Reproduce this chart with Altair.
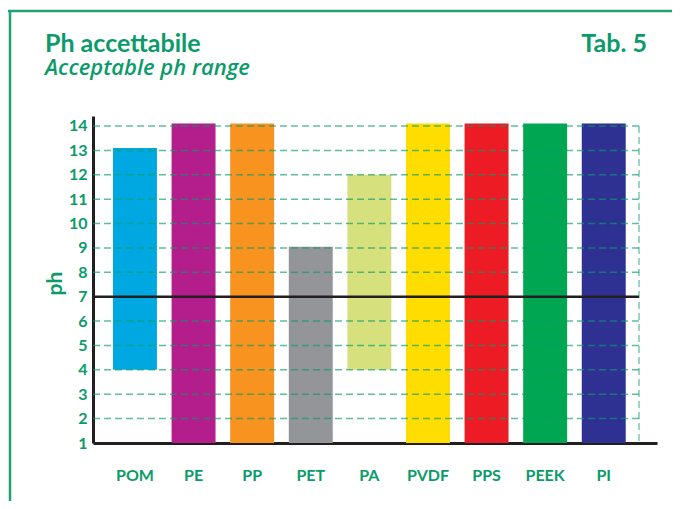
import altair as alt
import pandas as pd

# ---- data ----
materials = ["POM", "PE", "PP", "PET", "PA", "PVDF", "PPS", "PEEK", "PI"]
ph_low = [4, 1, 1, 1, 4, 1, 1, 1, 1]
ph_high = [13.1, 14.1, 14.1, 9.05, 12, 14.1, 14.1, 14.1, 14.1]
bar_colors = ["#00a8e1", "#b31e8c", "#f7931e", "#939598", "#d6e17e",
              "#ffdd00", "#ed1c24", "#00a651", "#2e3192"]
y_ticks = list(range(1, 15))
grid_values = [2, 3, 4, 5, 6, 8, 9, 10, 11, 12, 13, 14]
neutral_ph = 7
title_it = "Ph accettabile"
title_en = "Acceptable ph range"
tab_label = "Tab. 5"

GREEN = "#0b9b6a"
FRAME = "#23a070"
BLACK = "#231f20"
FONT = "Lato"

W, H = 564, 327
GRID_END = 546

df = pd.DataFrame({"material": materials, "low": ph_low, "high": ph_high})
grid_df = pd.DataFrame({"v": grid_values})
one = pd.DataFrame({"k": [0]})

y_scale = alt.Scale(domain=[1, 14.41], nice=False, zero=False)
x_scale = alt.Scale(paddingInner=0.25, paddingOuter=0.4375, align=0.39)

y_axis = alt.Axis(values=y_ticks, title="ph", grid=False, ticks=False,
                  labelOverlap=False,
                  domainColor=BLACK, domainWidth=3,
                  labelColor=GREEN, labelFont=FONT, labelFontSize=16,
                  labelFontWeight="bold", labelPadding=6,
                  titleColor=GREEN, titleFont=FONT, titleFontSize=21,
                  titleFontWeight="bold", titleAngle=270,
                  titleX=-38, titleY=167, titleAlign="center",
                  titleBaseline="middle")

bars = alt.Chart(df).mark_bar().encode(
    x=alt.X("material:N", sort=materials, scale=x_scale,
            axis=alt.Axis(title=None, labelAngle=0, ticks=False,
                          domainColor=BLACK, domainWidth=3,
                          labelColor=GREEN, labelFont=FONT, labelFontSize=16,
                          labelFontWeight="bold",
                          labelBaseline="alphabetic", labelPadding=37)),
    y=alt.Y("low:Q", scale=y_scale, axis=y_axis),
    y2="high:Q",
    color=alt.Color("material:N", scale=alt.Scale(domain=materials, range=bar_colors),
                    legend=None),
)

grid = alt.Chart(grid_df).mark_rule(
    color=GREEN, strokeDash=[7, 4], strokeWidth=1.5, opacity=0.65
).encode(
    y=alt.Y("v:Q", scale=y_scale, axis=y_axis),
    x=alt.value(0), x2=alt.value(GRID_END),
)

right_line = alt.Chart(one).mark_rule(
    color=GREEN, strokeDash=[7, 4], strokeWidth=1.5, opacity=0.55
).encode(
    x=alt.value(GRID_END),
    y=alt.datum(14, scale=y_scale, axis=y_axis), y2=alt.datum(1),
)

neutral = alt.Chart(one).mark_rule(color=BLACK, strokeWidth=2.5).encode(
    y=alt.datum(neutral_ph, axis=y_axis),
    x=alt.value(0), x2=alt.value(GRID_END),
)

t1 = alt.Chart(one).mark_text(
    text=title_it, font=FONT, fontSize=25, fontWeight="bold", color=GREEN,
    align="left", baseline="alphabetic"
).encode(x=alt.value(-48), y=alt.value(-64))

t2 = alt.Chart(one).mark_text(
    text=title_en, font="Open Sans", fontSize=22, fontStyle="italic",
    fontWeight=600, color=GREEN, align="left", baseline="alphabetic"
).encode(x=alt.value(-48), y=alt.value(-41))

t3 = alt.Chart(one).mark_text(
    text=tab_label, font=FONT, fontSize=25, fontWeight="bold", color=GREEN,
    align="right", baseline="alphabetic"
).encode(x=alt.value(554), y=alt.value(-64))

frame_top = alt.Chart(one).mark_rule(color=FRAME, strokeWidth=2.5).encode(
    x=alt.value(-85), x2=alt.value(W + 15), y=alt.value(-105)
)
frame_left = alt.Chart(one).mark_rule(color=FRAME, strokeWidth=2.5).encode(
    x=alt.value(-83), y=alt.value(-106), y2=alt.value(H + 60)
)

chart = alt.layer(
    bars, grid, right_line, neutral, t1, t2, t3, frame_top, frame_left
).properties(
    width=W, height=H,
    autosize=alt.AutoSizeParams(type="none"),
    padding={"left": 85, "top": 108, "right": 15, "bottom": 58},
    background="white",
).configure_view(stroke=None).configure_axis(labelOverlap=False)

chart.save("out.html", embed_options={"renderer": "svg", "actions": False})
